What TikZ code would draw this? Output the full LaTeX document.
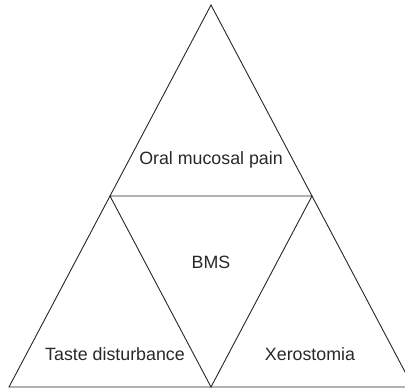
\documentclass[tikz,border=0pt]{standalone}
\usepackage{fontspec}
\setmainfont{Liberation Sans}
\definecolor{darkgray}{RGB}{40,40,40}
\usetikzlibrary{calc}

\begin{document}
\begin{tikzpicture}[x=1pt,y=-1pt,
  edge/.style={draw=black!85,line width=0.9pt,line join=miter},
  lbl/.style={anchor=base,inner sep=0pt,text=darkgray,font=\fontsize{17.8}{20}\selectfont},
]
\useasboundingbox (0,0) rectangle (405,389);
\clip (0,0) rectangle (405,389);
% outer triangle and its inner (upside down) triangle
\coordinate (top) at (211,5);
\coordinate (bl)  at (9,387);
\coordinate (br)  at (413,387);
\coordinate (ml)  at ($(top)!0.5!(bl)$);
\coordinate (mr)  at ($(top)!0.5!(br)$);
\coordinate (mb)  at ($(bl)!0.5!(br)$);
\draw[edge] (top) -- (bl) -- (br) -- cycle;
\draw[edge] (ml) -- (mr) -- (mb) -- cycle;
% labels
\node[lbl] (oral)  at (211,164) {Oral mucosal pain};
\node[lbl] (bms)   at (211,268) {BMS};
\node[lbl] (taste) at (115,360) {Taste disturbance};
\node[lbl] (xero)  at (310,360) {Xerostomia};
\end{tikzpicture}
\end{document}
